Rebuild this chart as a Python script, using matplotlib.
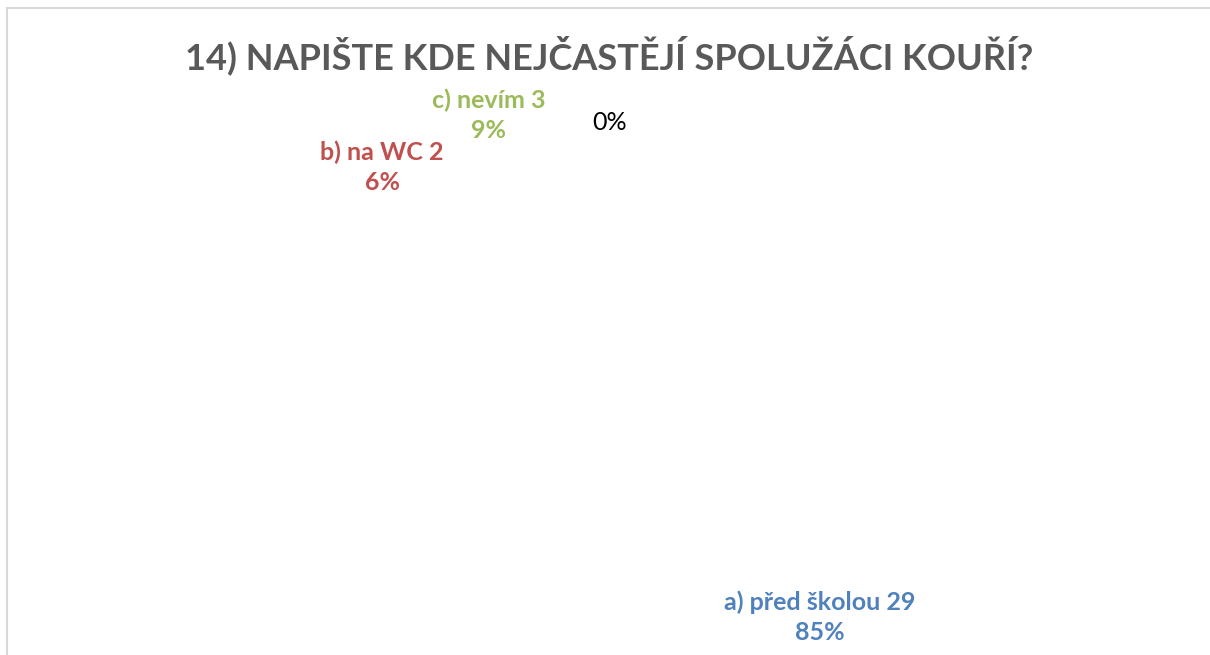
import matplotlib.pyplot as plt
from matplotlib.patches import Rectangle

# data
categories = ['a) před školou', 'b) na WC', 'c) nevím', '']
counts = [29, 2, 3, 0]
percent_labels = ['85%', '6%', '9%', '0%']
label_colors = ['#4F81BD', '#C0504D', '#9BBB59', '#000000']
title = '14) NAPIŠTE KDE NEJČASTĚJÍ SPOLUŽÁCI KOUŘÍ?'

# label placement (pixel centres, y from top) - Excel "best fit" positions
label_pos = [(820, 617), (382, 167), (489, 115), (610, 122)]

W, H = 1210, 655
fig = plt.figure(figsize=(W / 100, H / 100), dpi=100)
fig.patch.set_facecolor('white')

# chart frame (cropped on the right and bottom)
fig.patches.append(Rectangle((6.5 / W, -0.1), 1.2, (H - 7.5) / H + 0.1,
                             transform=fig.transFigure, fill=False,
                             edgecolor='#D9D9D9', linewidth=1.5))

ax = fig.add_axes([0, 0, 1, 1])
ax.set_xlim(0, W)
ax.set_ylim(H, 0)
ax.axis('off')

# the pie itself has no fill in the original, only the labels show
pie_ax = fig.add_axes([0.25, 0.02, 0.5, 0.78])
pie_ax.pie(counts, startangle=90, counterclock=False,
           colors=['none'] * len(counts), wedgeprops={'linewidth': 0})
pie_ax.axis('off')

fig.text(609 / W, 1 - 55 / H, title, ha='center', va='center',
         fontsize=26, fontweight='bold', color='#595959', family='Lato')

for cat, n, pct, col, (x, y) in zip(categories, counts, percent_labels,
                                    label_colors, label_pos):
    if cat:
        txt = f'{cat} {n}\n{pct}'
        weight = 'bold'
    else:
        txt = pct
        weight = 'normal'
    ax.text(x, y, txt, ha='center', va='center', color=col,
            fontsize=18, fontweight=weight, family='Lato',
            linespacing=1.35)

fig.savefig('out.png', dpi=100)
